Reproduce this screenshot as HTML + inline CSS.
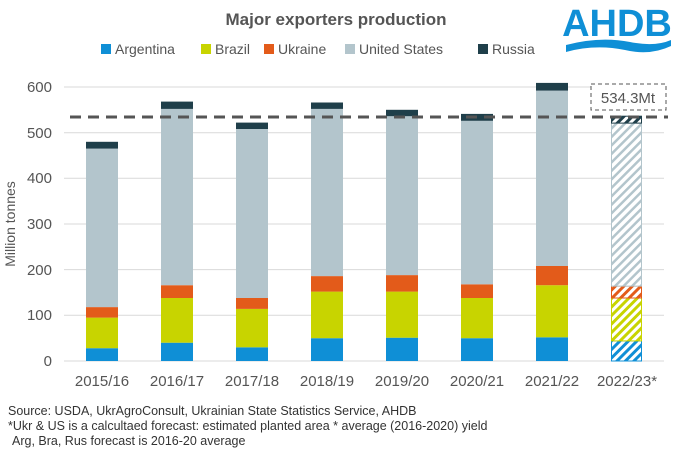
<!DOCTYPE html>
<html><head><meta charset="utf-8"><style>body{margin:0;background:#fff}svg{display:block}text{font-family:"Liberation Sans",sans-serif}</style></head><body>
<svg width="673" height="454" xmlns="http://www.w3.org/2000/svg">
<defs>
<pattern id="hA" width="6" height="6" patternUnits="userSpaceOnUse" patternTransform="rotate(45)"><rect width="6" height="6" fill="#fff"/><rect width="3" height="6" fill="#0f8fd6"/></pattern>
<pattern id="hB" width="6" height="6" patternUnits="userSpaceOnUse" patternTransform="rotate(45)"><rect width="6" height="6" fill="#fff"/><rect width="3" height="6" fill="#c8d400"/></pattern>
<pattern id="hU" width="6" height="6" patternUnits="userSpaceOnUse" patternTransform="rotate(45)"><rect width="6" height="6" fill="#fff"/><rect width="3" height="6" fill="#e35b1a"/></pattern>
<pattern id="hS" width="6" height="6" patternUnits="userSpaceOnUse" patternTransform="rotate(45)"><rect width="6" height="6" fill="#fff"/><rect width="2.5" height="6" fill="#b3c5cc"/></pattern>
<pattern id="hR" width="6" height="6" patternUnits="userSpaceOnUse" patternTransform="rotate(45)"><rect width="6" height="6" fill="#fff"/><rect width="3" height="6" fill="#1f3f4a"/></pattern>
</defs>
<text x="336" y="25" font-size="17" font-weight="bold" fill="#555" text-anchor="middle">Major exporters production</text>
<g font-size="14" fill="#555">
<rect x="101" y="44" width="10" height="10" fill="#0f8fd6"/><text x="115" y="54">Argentina</text>
<rect x="201" y="44" width="10" height="10" fill="#c8d400"/><text x="215" y="54">Brazil</text>
<rect x="264" y="44" width="10" height="10" fill="#e35b1a"/><text x="278" y="54">Ukraine</text>
<rect x="345" y="44" width="10" height="10" fill="#b3c5cc"/><text x="359" y="54">United States</text>
<rect x="478" y="44" width="10" height="10" fill="#1f3f4a"/><text x="492" y="54">Russia</text>
</g>
<text x="617" y="36" font-size="38" font-weight="bold" fill="#0f8fd6" text-anchor="middle">AHDB</text>
<path d="M566 45 Q600 36 630 42 Q655 47 671 40 L671 46 Q650 56 625 50 Q595 44 566 52 Z" fill="#0f8fd6"/>
<g stroke="#d9d9d9" stroke-width="1">
<line x1="64" y1="361" x2="664" y2="361"/><line x1="64" y1="315.3" x2="664" y2="315.3"/><line x1="64" y1="269.6" x2="664" y2="269.6"/><line x1="64" y1="224" x2="664" y2="224"/><line x1="64" y1="178.3" x2="664" y2="178.3"/><line x1="64" y1="132.7" x2="664" y2="132.7"/><line x1="64" y1="87" x2="664" y2="87"/>
</g>
<g font-size="15" fill="#555" text-anchor="end">
<text x="52" y="366">0</text><text x="52" y="320">100</text><text x="52" y="275">200</text><text x="52" y="229">300</text><text x="52" y="183">400</text><text x="52" y="138">500</text><text x="52" y="92">600</text>
</g>
<text transform="translate(15,224) rotate(-90)" font-size="14" fill="#555" text-anchor="middle">Million tonnes</text>
<g>
<rect x="86" y="348.2" width="32" height="12.8" fill="#0f8fd6"/><rect x="86" y="317.6" width="32" height="30.6" fill="#c8d400"/><rect x="86" y="307.1" width="32" height="10.5" fill="#e35b1a"/><rect x="86" y="148.6" width="32" height="158.5" fill="#b3c5cc"/><rect x="86" y="141.8" width="32" height="6.8" fill="#1f3f4a"/>
<rect x="161" y="342.7" width="32" height="18.3" fill="#0f8fd6"/><rect x="161" y="298" width="32" height="44.7" fill="#c8d400"/><rect x="161" y="285.2" width="32" height="12.8" fill="#e35b1a"/><rect x="161" y="108.9" width="32" height="176.3" fill="#b3c5cc"/><rect x="161" y="101.6" width="32" height="7.3" fill="#1f3f4a"/>
<rect x="236" y="347.3" width="32" height="13.7" fill="#0f8fd6"/><rect x="236" y="308.9" width="32" height="38.4" fill="#c8d400"/><rect x="236" y="298" width="32" height="10.9" fill="#e35b1a"/><rect x="236" y="129" width="32" height="169" fill="#b3c5cc"/><rect x="236" y="122.6" width="32" height="6.4" fill="#1f3f4a"/>
<rect x="311" y="338.2" width="32" height="22.8" fill="#0f8fd6"/><rect x="311" y="291.6" width="32" height="46.6" fill="#c8d400"/><rect x="311" y="276.1" width="32" height="15.5" fill="#e35b1a"/><rect x="311" y="108.9" width="32" height="167.2" fill="#b3c5cc"/><rect x="311" y="102.5" width="32" height="6.4" fill="#1f3f4a"/>
<rect x="386" y="337.7" width="32" height="23.3" fill="#0f8fd6"/><rect x="386" y="291.6" width="32" height="46.1" fill="#c8d400"/><rect x="386" y="275.1" width="32" height="16.5" fill="#e35b1a"/><rect x="386" y="116.2" width="32" height="158.9" fill="#b3c5cc"/><rect x="386" y="109.8" width="32" height="6.4" fill="#1f3f4a"/>
<rect x="461" y="338.2" width="32" height="22.8" fill="#0f8fd6"/><rect x="461" y="298" width="32" height="40.2" fill="#c8d400"/><rect x="461" y="284.3" width="32" height="13.7" fill="#e35b1a"/><rect x="461" y="120.8" width="32" height="163.5" fill="#b3c5cc"/><rect x="461" y="113.9" width="32" height="6.9" fill="#1f3f4a"/>
<rect x="536" y="337.3" width="32" height="23.7" fill="#0f8fd6"/><rect x="536" y="285.2" width="32" height="52.1" fill="#c8d400"/><rect x="536" y="266" width="32" height="19.2" fill="#e35b1a"/><rect x="536" y="90.6" width="32" height="175.4" fill="#b3c5cc"/><rect x="536" y="82.9" width="32" height="7.7" fill="#1f3f4a"/>
<rect x="611.5" y="340.9" width="30" height="20.1" fill="url(#hA)" stroke="#0f8fd6"/><rect x="611.5" y="298" width="30" height="42.9" fill="url(#hB)" stroke="#c8d400"/><rect x="611.5" y="286.1" width="30" height="11.9" fill="url(#hU)" stroke="#e35b1a"/><rect x="611.5" y="123.1" width="30" height="163" fill="url(#hS)" stroke="#b3c5cc"/><rect x="611.5" y="116.2" width="30" height="6.9" fill="url(#hR)" stroke="#1f3f4a"/>
</g>
<line x1="70" y1="117" x2="668" y2="117" stroke="#555" stroke-width="3" stroke-dasharray="11,7"/>
<rect x="591" y="84" width="75" height="26" fill="#fff" stroke="#555" stroke-dasharray="4,3"/>
<text x="628" y="103" font-size="15" fill="#555" text-anchor="middle">534.3Mt</text>
<g font-size="15" fill="#555" text-anchor="middle">
<text x="102" y="386">2015/16</text><text x="177" y="386">2016/17</text><text x="252" y="386">2017/18</text><text x="327" y="386">2018/19</text><text x="402" y="386">2019/20</text><text x="477" y="386">2020/21</text><text x="552" y="386">2021/22</text><text x="627" y="386">2022/23*</text>
</g>
<g font-size="12.5" fill="#333">
<text x="8" y="415">Source: USDA, UkrAgroConsult, Ukrainian State Statistics Service, AHDB</text>
<text x="8" y="430">*Ukr &amp; US is a calcultaed forecast: estimated planted area * average (2016-2020) yield</text>
<text x="12" y="445">Arg, Bra, Rus forecast is 2016-20 average</text>
</g>
</svg>
</body></html>
